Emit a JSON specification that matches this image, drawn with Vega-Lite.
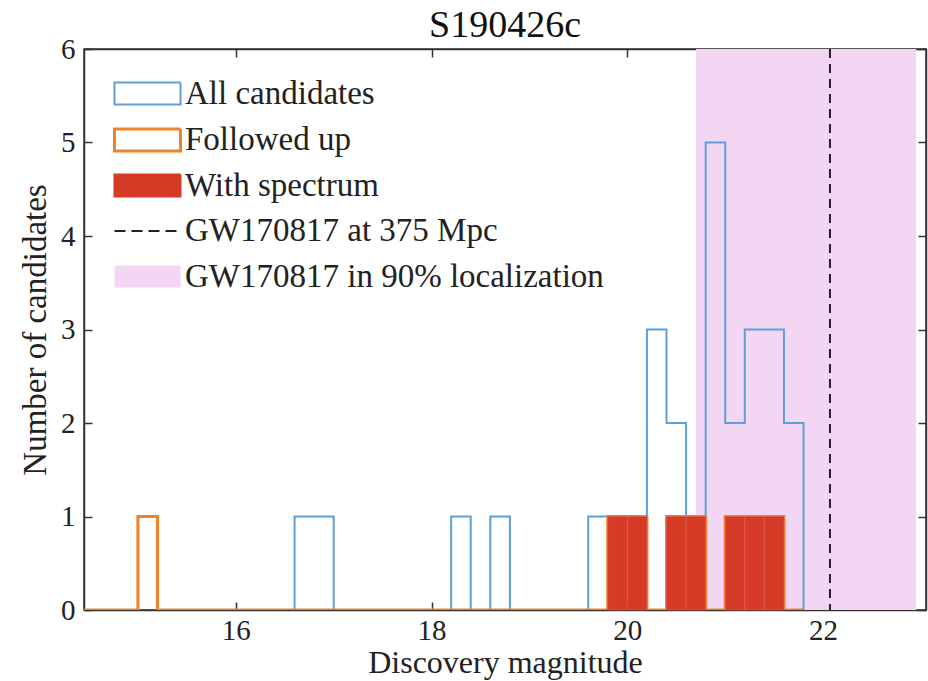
{
  "$schema": "https://vega.github.io/schema/vega-lite/v6.json",
  "width": 842,
  "height": 561,
  "autosize": {"type": "none"},
  "padding": {"left": 84, "top": 49, "right": 2, "bottom": 71},
  "background": "white",
  "title": {
    "text": "S190426c",
    "font": "Liberation Serif",
    "fontSize": 38,
    "fontWeight": "normal",
    "color": "#111",
    "anchor": "middle",
    "offset": -10
  },
  "datasets": {
    "bins": [
      {"lo": 14.4, "hi": 14.6, "all": 0, "followed": 0, "spectrum": 0},
      {"lo": 14.6, "hi": 14.8, "all": 0, "followed": 0, "spectrum": 0},
      {"lo": 14.8, "hi": 15.0, "all": 0, "followed": 0, "spectrum": 0},
      {"lo": 15.0, "hi": 15.2, "all": 1, "followed": 1, "spectrum": 0},
      {"lo": 15.2, "hi": 15.4, "all": 0, "followed": 0, "spectrum": 0},
      {"lo": 15.4, "hi": 15.6, "all": 0, "followed": 0, "spectrum": 0},
      {"lo": 15.6, "hi": 15.8, "all": 0, "followed": 0, "spectrum": 0},
      {"lo": 15.8, "hi": 16.0, "all": 0, "followed": 0, "spectrum": 0},
      {"lo": 16.0, "hi": 16.2, "all": 0, "followed": 0, "spectrum": 0},
      {"lo": 16.2, "hi": 16.4, "all": 0, "followed": 0, "spectrum": 0},
      {"lo": 16.4, "hi": 16.6, "all": 0, "followed": 0, "spectrum": 0},
      {"lo": 16.6, "hi": 16.8, "all": 1, "followed": 0, "spectrum": 0},
      {"lo": 16.8, "hi": 17.0, "all": 1, "followed": 0, "spectrum": 0},
      {"lo": 17.0, "hi": 17.2, "all": 0, "followed": 0, "spectrum": 0},
      {"lo": 17.2, "hi": 17.4, "all": 0, "followed": 0, "spectrum": 0},
      {"lo": 17.4, "hi": 17.6, "all": 0, "followed": 0, "spectrum": 0},
      {"lo": 17.6, "hi": 17.8, "all": 0, "followed": 0, "spectrum": 0},
      {"lo": 17.8, "hi": 18.0, "all": 0, "followed": 0, "spectrum": 0},
      {"lo": 18.0, "hi": 18.2, "all": 0, "followed": 0, "spectrum": 0},
      {"lo": 18.2, "hi": 18.4, "all": 1, "followed": 0, "spectrum": 0},
      {"lo": 18.4, "hi": 18.6, "all": 0, "followed": 0, "spectrum": 0},
      {"lo": 18.6, "hi": 18.8, "all": 1, "followed": 0, "spectrum": 0},
      {"lo": 18.8, "hi": 19.0, "all": 0, "followed": 0, "spectrum": 0},
      {"lo": 19.0, "hi": 19.2, "all": 0, "followed": 0, "spectrum": 0},
      {"lo": 19.2, "hi": 19.4, "all": 0, "followed": 0, "spectrum": 0},
      {"lo": 19.4, "hi": 19.6, "all": 0, "followed": 0, "spectrum": 0},
      {"lo": 19.6, "hi": 19.8, "all": 1, "followed": 0, "spectrum": 0},
      {"lo": 19.8, "hi": 20.0, "all": 1, "followed": 1, "spectrum": 1},
      {"lo": 20.0, "hi": 20.2, "all": 1, "followed": 1, "spectrum": 1},
      {"lo": 20.2, "hi": 20.4, "all": 3, "followed": 0, "spectrum": 0},
      {"lo": 20.4, "hi": 20.6, "all": 2, "followed": 1, "spectrum": 1},
      {"lo": 20.6, "hi": 20.8, "all": 1, "followed": 1, "spectrum": 1},
      {"lo": 20.8, "hi": 21.0, "all": 5, "followed": 0, "spectrum": 0},
      {"lo": 21.0, "hi": 21.2, "all": 2, "followed": 1, "spectrum": 1},
      {"lo": 21.2, "hi": 21.4, "all": 3, "followed": 1, "spectrum": 1},
      {"lo": 21.4, "hi": 21.6, "all": 3, "followed": 1, "spectrum": 1},
      {"lo": 21.6, "hi": 21.8, "all": 2, "followed": 0, "spectrum": 0},
      {"lo": 21.8, "hi": 22.0, "all": 0, "followed": 0, "spectrum": 0}
    ],
    "region": [
      {"label": "GW170817 in 90% localization", "lo": 20.7, "hi": 22.95}
    ],
    "distance": [
      {"label": "GW170817 at 375 Mpc", "mag": 22.07}
    ]
  },
  "resolve": {"axis": {"x": "independent", "y": "independent"}},
  "layer": [
    {
      "data": {"name": "region"},
      "mark": {"type": "rect"},
      "encoding": {
        "x": {
          "field": "lo", "type": "quantitative", "title": "Discovery magnitude",
          "scale": {"domain": [14.5, 23], "nice": false, "zero": false},
          "axis": {
            "orient": "bottom", "values": [16, 18, 20, 22], "format": "d", "grid": false,
            "labelFont": "Liberation Serif", "titleFont": "Liberation Serif",
            "labelFontSize": 29, "titleFontSize": 32, "labelPadding": 14, "titlePadding": 2
          }
        },
        "x2": {"field": "hi"},
        "color": {
          "field": "label", "type": "nominal",
          "scale": {
            "domain": ["All candidates", "Followed up", "With spectrum", "GW170817 at 375 Mpc", "GW170817 in 90% localization"],
            "range": ["#5e9fd6", "#f0832a", "#d63b27", "#222222", "#f3d5f4"]
          },
          "legend": {
            "title": null,
            "orient": "none",
            "legendX": 47,
            "legendY": 28,
            "padding": 0,
            "labelFont": "Liberation Serif",
            "labelFontSize": 33,
            "labelColor": "#222",
            "labelLimit": 700,
            "labelOffset": 21,
            "rowPadding": 11.5,
            "symbolSize": 4356,
            "symbolStrokeWidth": 2,
            "encode": {
              "symbols": {
                "update": {
                  "shape": {"signal": "datum.value === 'GW170817 at 375 Mpc' ? 'M-1,0H1' : 'M-1,-0.333H1V0.333H-1Z'"},
                  "fillOpacity": {"signal": "datum.value === 'With spectrum' || datum.value === 'GW170817 in 90% localization' ? 1 : 0"},
                  "strokeOpacity": {"signal": "datum.value === 'GW170817 in 90% localization' ? 0 : 1"},
                  "stroke": {"signal": "datum.value === 'All candidates' ? '#5e9fd6' : datum.value === 'Followed up' ? '#f0832a' : datum.value === 'With spectrum' ? '#e0652f' : '#111111'"},
                  "strokeWidth": {"signal": "datum.value === 'Followed up' ? 3 : 2"},
                  "strokeDash": {"signal": "datum.value === 'GW170817 at 375 Mpc' ? [11, 6] : [1, 0]"},
                  "opacity": {"value": 1}
                }
              }
            }
          }
        }
      }
    },
    {
      "data": {"name": "bins"},
      "mark": {"type": "line", "interpolate": "step-after", "strokeWidth": 2, "clip": true},
      "encoding": {
        "x": {
          "field": "lo", "type": "quantitative", "title": null,
          "scale": {"domain": [14.5, 23], "nice": false, "zero": false},
          "axis": {"orient": "top", "values": [16, 18, 20, 22], "labels": false, "grid": false}
        },
        "y": {
          "field": "all", "type": "quantitative", "title": "Number of candidates",
          "scale": {"domain": [0, 6], "nice": false},
          "axis": {
            "orient": "left", "values": [0, 1, 2, 3, 4, 5, 6], "format": "d", "grid": false,
            "labelFont": "Liberation Serif", "titleFont": "Liberation Serif",
            "labelFontSize": 29, "titleFontSize": 33, "labelPadding": 17, "titlePadding": 8
          }
        },
        "color": {"datum": "All candidates"}
      }
    },
    {
      "data": {"name": "bins"},
      "mark": {"type": "line", "interpolate": "step-after", "strokeWidth": 3, "clip": true},
      "encoding": {
        "x": {"field": "lo", "type": "quantitative", "axis": null},
        "y": {
          "field": "followed", "type": "quantitative", "title": null,
          "scale": {"domain": [0, 6], "nice": false},
          "axis": {"orient": "right", "values": [0, 1, 2, 3, 4, 5, 6], "labels": false, "grid": false}
        },
        "color": {"datum": "Followed up"}
      }
    },
    {
      "data": {"name": "bins"},
      "transform": [{"filter": "datum.spectrum > 0"}],
      "mark": {"type": "bar", "orient": "vertical", "stroke": "#dd5a50", "strokeWidth": 0.6},
      "encoding": {
        "x": {"field": "lo", "type": "quantitative", "axis": null},
        "x2": {"field": "hi"},
        "y": {"field": "spectrum", "type": "quantitative", "axis": null},
        "color": {"datum": "With spectrum"}
      }
    },
    {
      "data": {"name": "distance"},
      "mark": {"type": "rule", "strokeWidth": 2, "strokeDash": [9, 6]},
      "encoding": {
        "x": {"field": "mag", "type": "quantitative", "axis": null},
        "color": {"field": "label", "type": "nominal"}
      }
    }
  ],
  "config": {
    "font": "Liberation Serif",
    "view": {"stroke": "#333", "strokeWidth": 1.5},
    "axis": {
      "labelFont": "Liberation Serif",
      "labelFontSize": 29,
      "labelColor": "#222",
      "titleFont": "Liberation Serif",
      "titleFontSize": 32,
      "titleFontWeight": "normal",
      "titleColor": "#222",
      "domainColor": "#333",
      "domainWidth": 1.5,
      "tickColor": "#333",
      "tickWidth": 1.5,
      "tickSize": -8,
      "labelFlush": false,
      "labelOverlap": false
    }
  }
}
